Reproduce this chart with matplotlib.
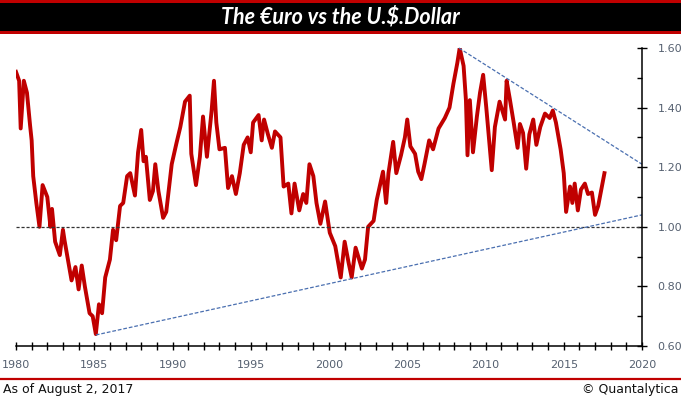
import matplotlib.pyplot as plt
import matplotlib.patches as mpatches
from matplotlib.lines import Line2D
from matplotlib.ticker import MultipleLocator

# EUR/USD (synthetic before 1999)
years = [1980.0, 1980.2, 1980.3, 1980.5, 1980.7, 1980.9, 1981.0, 1981.1, 1981.3, 1981.5,
         1981.7, 1982.0, 1982.2, 1982.3, 1982.5, 1982.8, 1983.0, 1983.1, 1983.55, 1983.8,
         1984.0, 1984.2, 1984.4, 1984.7, 1984.9, 1985.1, 1985.3, 1985.5, 1985.7, 1986.0,
         1986.2, 1986.4, 1986.65, 1986.85, 1987.1, 1987.3, 1987.6, 1987.8, 1988.0, 1988.15,
         1988.3, 1988.55, 1988.75, 1988.9, 1989.1, 1989.4, 1989.6, 1989.95, 1990.25, 1990.5,
         1990.8, 1991.1, 1991.2, 1991.5, 1991.75, 1991.95, 1992.2, 1992.5, 1992.65, 1992.8,
         1993.0, 1993.35, 1993.55, 1993.8, 1994.05, 1994.3, 1994.55, 1994.8, 1995.0, 1995.15,
         1995.5, 1995.7, 1995.85, 1996.1, 1996.35, 1996.55, 1996.9, 1997.1, 1997.4, 1997.6,
         1997.8, 1998.1, 1998.35, 1998.55, 1998.75, 1999.0, 1999.2, 1999.45, 1999.75, 2000.05,
         2000.4, 2000.75, 2001.0, 2001.25, 2001.45, 2001.7, 2002.1, 2002.3, 2002.5, 2002.85,
         2003.05, 2003.45, 2003.65, 2003.8, 2004.1, 2004.3, 2004.6, 2004.85, 2005.0, 2005.2,
         2005.5, 2005.7, 2005.9, 2006.1, 2006.4, 2006.65, 2007.0, 2007.4, 2007.7, 2007.95,
         2008.2, 2008.35, 2008.6, 2008.75, 2008.85, 2009.0, 2009.2, 2009.45, 2009.65, 2009.85,
         2010.05, 2010.4, 2010.6, 2010.9, 2011.25, 2011.35, 2011.55, 2011.8, 2012.05, 2012.2,
         2012.4, 2012.6, 2012.8, 2013.05, 2013.25, 2013.5, 2013.8, 2014.1, 2014.3, 2014.5,
         2014.8, 2015.0, 2015.15, 2015.4, 2015.55, 2015.7, 2015.9, 2016.1, 2016.35, 2016.55,
         2016.8, 2017.0, 2017.2, 2017.4, 2017.6]
eurusd = [1.52, 1.49, 1.33, 1.49, 1.45, 1.34, 1.29, 1.17, 1.08, 1.00,
          1.14, 1.10, 1.00, 1.06, 0.95, 0.905, 0.99, 0.955, 0.82, 0.865,
          0.79, 0.87, 0.80, 0.71, 0.70, 0.64, 0.74, 0.71, 0.83, 0.89,
          0.99, 0.955, 1.07, 1.08, 1.17, 1.18, 1.105, 1.25, 1.325, 1.22,
          1.235, 1.09, 1.12, 1.21, 1.12, 1.03, 1.05, 1.21, 1.28, 1.335,
          1.42, 1.44, 1.245, 1.14, 1.235, 1.37, 1.235, 1.39, 1.49, 1.35,
          1.26, 1.265, 1.13, 1.17, 1.11, 1.18, 1.275, 1.30, 1.25, 1.35,
          1.375, 1.29, 1.36, 1.31, 1.265, 1.32, 1.30, 1.135, 1.145, 1.045,
          1.145, 1.055, 1.11, 1.08, 1.21, 1.17, 1.08, 1.01, 1.085, 0.98,
          0.935, 0.83, 0.95, 0.88, 0.83, 0.93, 0.86, 0.89, 1.00, 1.02,
          1.09, 1.185, 1.08, 1.18, 1.285, 1.18, 1.24, 1.30, 1.36, 1.27,
          1.245, 1.185, 1.16, 1.21, 1.29, 1.26, 1.33, 1.365, 1.40, 1.48,
          1.55, 1.60, 1.54, 1.425, 1.24, 1.425, 1.25, 1.37, 1.45, 1.51,
          1.40, 1.19, 1.335, 1.42, 1.36, 1.49, 1.43, 1.35, 1.265, 1.345,
          1.315, 1.195, 1.31, 1.36, 1.275, 1.335, 1.38, 1.365, 1.39, 1.35,
          1.26, 1.18, 1.05, 1.135, 1.08, 1.145, 1.055, 1.125, 1.145, 1.11,
          1.115, 1.04, 1.07, 1.125, 1.18]

# trend lines (start / end points)
support_x = [1985.1, 2020.0]
support_y = [0.637, 1.04]
resist_x = [2008.3, 2020.0]
resist_y = [1.60, 1.21]

title = 'The €uro vs the U.$.Dollar'
note_left = 'As of August 2, 2017'
note_right = '© Quantalytica'

W, H = 681, 399
fig = plt.figure(figsize=(W / 100, H / 100), dpi=100)
fig.patch.set_facecolor('white')

red = '#C00000'

# title bar
fig.patches.append(mpatches.Rectangle((0, 1 - 34 / H), 1, 34 / H, transform=fig.transFigure,
                                      facecolor=red, edgecolor='none'))
fig.patches.append(mpatches.Rectangle((0, 1 - 31 / H), 1, 28.5 / H, transform=fig.transFigure,
                                      facecolor='black', edgecolor='none'))
fig.text(0.5, 1 - 17 / H, title, color='white', fontsize=15.5, fontweight='bold',
         fontstyle='italic', family='Lato', ha='center', va='center')

ax = fig.add_axes([16 / W, 1 - 346 / H, (642 - 16) / W, (346 - 48) / H])
ax.plot(years, eurusd, color=red, lw=2.8, solid_joinstyle='round')
ax.axhline(1.0, color='#333333', lw=0.9, ls=(0, (2.5, 1.5)))
ax.plot(support_x, support_y, color='#4a6fb0', lw=0.9, ls=(0, (3, 1.5)))
ax.plot(resist_x, resist_y, color='#4a6fb0', lw=0.9, ls=(0, (3, 1.5)), clip_on=False)

ax.set_xlim(1980, 2020)
ax.set_ylim(0.6, 1.6)
for s in ['left', 'top']:
    ax.spines[s].set_visible(False)
ax.spines['right'].set_linewidth(1.1)
ax.spines['bottom'].set_linewidth(1.1)

ax.yaxis.tick_right()
ax.xaxis.set_major_locator(MultipleLocator(5))
ax.xaxis.set_minor_locator(MultipleLocator(1))
ax.yaxis.set_major_locator(MultipleLocator(0.2))
ax.yaxis.set_minor_locator(MultipleLocator(0.1))
ax.yaxis.set_major_formatter(plt.FuncFormatter(lambda v, p: f'{v:.2f}'))
ax.tick_params(axis='x', which='both', direction='inout', length=6, width=1, pad=7,
               labelsize=8, labelcolor='#556070')
ax.tick_params(axis='y', which='major', direction='inout', length=6.5, width=1, pad=8,
               labelsize=8, labelcolor='#556070')
ax.tick_params(axis='y', which='minor', direction='in', length=3.5, width=1)

# footer
fig.lines.append(Line2D([0, 1], [1 - 379 / H] * 2, transform=fig.transFigure, color=red, lw=1.6))
fig.text(3 / W, 1 - 389 / H, note_left, fontsize=9, ha='left', va='center', color='#111111')
fig.text(678 / W, 1 - 389 / H, note_right, fontsize=9, ha='right', va='center', color='#111111')

fig.savefig('out.png', dpi=100)
